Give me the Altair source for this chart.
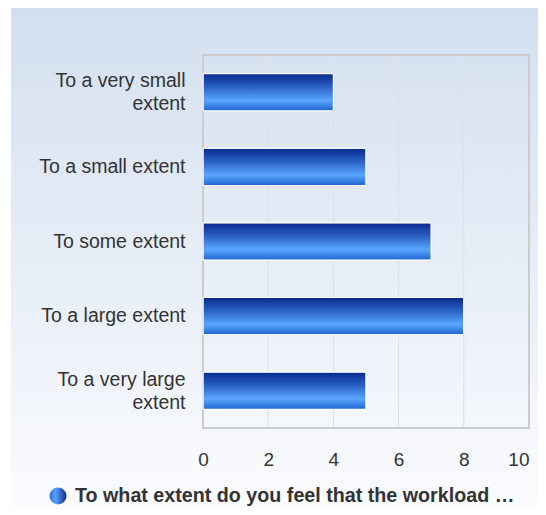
import altair as alt
import pandas as pd

categories = [
    "To a very small extent",
    "To a small extent",
    "To some extent",
    "To a large extent",
    "To a very large extent",
]
values = [4, 5, 7, 8, 5]
series_name = "To what extent do you feel that the workload \u2026"
x_ticks = [0, 2, 4, 6, 8, 10]

FONT = "Liberation Sans"
W, H = 326, 373

bars_df = pd.DataFrame({"category": categories, "value": values})
ticks_df = pd.DataFrame({"value": x_ticks})
legend_df = pd.DataFrame({"label": [series_name]})
one_df = pd.DataFrame({"k": [0]})

bg_grad = alt.Gradient(
    gradient="linear", x1=0, y1=0, x2=0, y2=1,
    stops=[alt.GradientStop(offset=0, color="#d3dff0"),
           alt.GradientStop(offset=1, color="#fbfcfe")],
)
bar_grad = alt.Gradient(
    gradient="linear", x1=0, y1=0, x2=0, y2=1,
    stops=[alt.GradientStop(offset=0, color="#072a8c"),
           alt.GradientStop(offset=0.35, color="#2a5fc4"),
           alt.GradientStop(offset=0.72, color="#5aa6ff"),
           alt.GradientStop(offset=1, color="#1f63cf")],
)
dot_grad = alt.Gradient(
    gradient="linear", x1=0, y1=0, x2=1, y2=0,
    stops=[alt.GradientStop(offset=0, color="#2f6fda"),
           alt.GradientStop(offset=0.35, color="#5aa0ff"),
           alt.GradientStop(offset=1, color="#0a2a8a")],
)

x_axis = alt.Axis(values=x_ticks, title=None, grid=False, ticks=False, domain=False,
                  labelPadding=22, labelFontSize=19, labelColor="#333333", labelFont=FONT,
                  zindex=1,
                  labelAlign={"condition": {"test": "datum.value == 10", "value": "right"},
                              "value": "center"})
x_enc = alt.X("value:Q", scale=alt.Scale(domain=[0, 10], nice=False), axis=x_axis)

wrap_test = "length(datum.label) > 18"
wrap_expr = (wrap_test + " ? [slice(datum.label, 0, lastindexof(datum.label, ' ')), "
             "slice(datum.label, lastindexof(datum.label, ' ') + 1)] : datum.label")

background = alt.Chart(one_df).mark_rect(fill=bg_grad, strokeWidth=0).encode(
    x=alt.value(-192), x2=alt.value(343), y=alt.value(-48), y2=alt.value(460)
)

grid = alt.Chart(ticks_df).mark_rule(color="#dcdfe4", strokeWidth=1).encode(x=x_enc)

bars = alt.Chart(bars_df).mark_bar(
    fill=bar_grad, stroke="white", strokeWidth=1, cornerRadiusEnd=2
).encode(
    x=x_enc,
    y=alt.Y("category:N", sort=categories,
            scale=alt.Scale(paddingInner=0.5, paddingOuter=0.25),
            axis=alt.Axis(title=None, ticks=False, domain=False, labelPadding=18,
                          labelFontSize=19.5, labelColor="#333333", labelFont=FONT,
                          labelLineHeight=23, labelExpr=wrap_expr, labelLimit=300,
                          labelOffset={"condition": {"test": wrap_test, "value": -11},
                                       "value": 0},
                          zindex=1)),
)

border = alt.Chart(one_df).mark_rect(fill=None, stroke="#cccccc", strokeWidth=2).encode(
    x=alt.value(0), x2=alt.value(W), y=alt.value(0), y2=alt.value(H)
)

legend_dot = alt.Chart(legend_df).mark_circle(fill=dot_grad, size=289, opacity=1).encode(
    x=alt.value(-145), y=alt.value(441)
)
legend_text = alt.Chart(legend_df).mark_text(
    align="left", baseline="alphabetic", fontWeight="bold", fontSize=19.7,
    color="#333333", font=FONT
).encode(text="label:N", x=alt.value(-128), y=alt.value(446.5))

chart = alt.layer(background, grid, border, bars, legend_dot, legend_text).properties(
    width=W, height=H,
    autosize=alt.AutoSizeParams(type="none"),
    padding={"left": 195, "top": 47, "right": 9, "bottom": 79},
).configure_view(stroke=None, fill=None)

chart.save("out.html", embed_options={"renderer": "svg", "actions": False})
